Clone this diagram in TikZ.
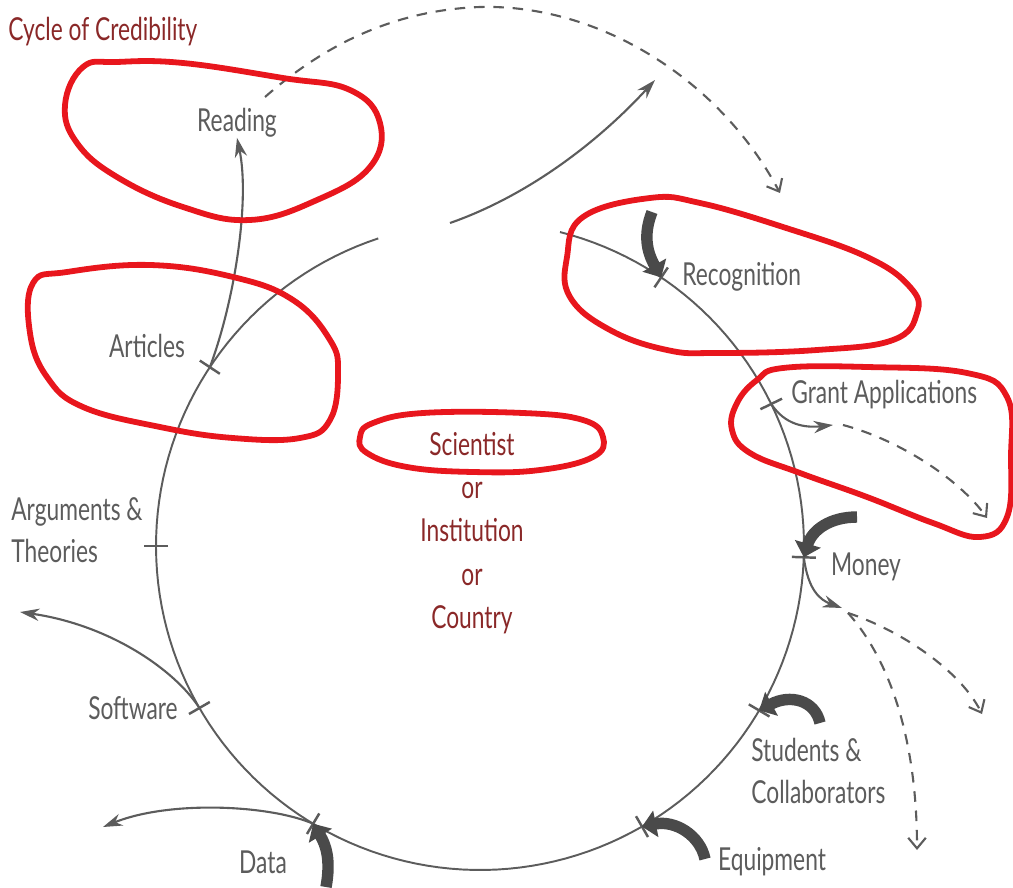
\documentclass[tikz,border=0pt]{standalone}
\usepackage{fontspec}
\newfontfamily\handfont[FakeStretch=0.72]{Lato}
\usetikzlibrary{arrows.meta}

\definecolor{penGray}{HTML}{5C5C5C}
\definecolor{markerGray}{HTML}{4A4A4A}
\definecolor{inkRed}{HTML}{8A2828}
\definecolor{loopRed}{HTML}{E8161D}

\tikzset{
  cycleline/.style={penGray,line width=1.1pt},
  tickmark/.style={penGray,line width=1.4pt},
  outarrow/.style={penGray,line width=1.2pt,-{Stealth[length=11pt,width=7pt]}},
  leakarrow/.style={penGray,line width=1.2pt,dash pattern=on 6pt off 5pt,-{Straight Barb[length=6pt,width=10pt]}},
  inarrow/.style={markerGray,line width=6.5pt,-{Triangle[length=8pt,width=15pt]}},
  redloop/.style={loopRed,line width=3.3pt,line join=round},
  itemtext/.style={penGray,inner sep=0pt,font=\handfont\fontsize{18}{24}\selectfont},
  redtext/.style={inkRed,inner sep=0pt,font=\handfont\fontsize{18}{24.7}\selectfont}
}

\begin{document}
\begin{tikzpicture}[x=0.02cm,y=-0.02cm]
  \useasboundingbox (0,0) rectangle (1013,888);

  % the cycle, open at the top
  \draw[cycleline] plot[domain=-75.7:251.7,samples=160] ({480+324*cos(\x)},{546+324*sin(\x)});
  \foreach \a/\n in {-56/tRecog,-26/tGrant,2/tMoney,30.5/tStud,60/tEquip,121/tData,150/tSoft,180/tArgs,213.5/tArts} {
    \coordinate (\n) at ({480+324*cos(\a)},{546+324*sin(\a)});
    \draw[tickmark] ({480+312*cos(\a)},{546+312*sin(\a)}) -- ({480+336*cos(\a)},{546+336*sin(\a)});
  }

  % labels
  \node[redtext,anchor=west] (title) at (8,32) {Cycle of Credibility};
  \node[itemtext] (reading) at (237,123) {Reading};
  \node[itemtext] (articles) at (147,346) {Articles};
  \node[itemtext,anchor=west,align=left] (arguments) at (11,530) {Arguments \&\\Theories};
  \node[itemtext] (software) at (133,708) {Software};
  \node[itemtext] (datalbl) at (263,862) {Data};
  \node[itemtext] (equipment) at (772,862) {Equipment};
  \node[itemtext,anchor=west,align=left] (studentslbl) at (751,771) {Students \&\\Collaborators};
  \node[itemtext] (moneylbl) at (866,567) {Money};
  \node[itemtext,anchor=west] (grantlbl) at (791,395) {Grant Applications};
  \node[itemtext,anchor=west] (recognition) at (682,277) {Recognition};
  \node[redtext,align=center] (who) at (472,533) {Scientist\\or\\Institution\\or\\Country};

  % free ends
  \coordinate (gapOut) at (450,223);
  \coordinate (outTip) at (655,80);
  \coordinate (readOut) at (265,97);
  \coordinate (recogIn) at (780,193);
  \coordinate (grantOut) at (833,425);
  \coordinate (grantLeak) at (843,425);
  \coordinate (grantEnd) at (987,518);
  \coordinate (moneyOut) at (842,608);
  \coordinate (moneyLeak) at (848,613);
  \coordinate (moneyEndA) at (982,714);
  \coordinate (moneyEndB) at (917,850);
  \coordinate (softTip) at (20,612);
  \coordinate (dataTip) at (103,827);
  \coordinate (recogSrc) at (652,212);
  \coordinate (moneySrc) at (857,517);
  \coordinate (studSrc) at (820,723);
  \coordinate (equipSrc) at (705,859);
  \coordinate (dataSrc) at (326,887);

  % outflows
  \draw[outarrow] (tArts) .. controls (235,300) and (250,200) .. (reading.south);
  \draw[outarrow] (gapOut) .. controls (530,195) and (600,140) .. (outTip);
  \draw[leakarrow] (readOut) .. controls (330,40) and (400,10) .. (480,7)
    .. controls (600,4) and (720,80) .. (recogIn);
  \draw[outarrow] (tGrant) .. controls (785,425) and (805,428) .. (grantOut);
  \draw[leakarrow] (grantLeak) .. controls (900,440) and (960,480) .. (grantEnd);
  \draw[outarrow] (tMoney) .. controls (808,590) and (820,600) .. (moneyOut);
  \draw[leakarrow] (moneyLeak) .. controls (900,630) and (960,670) .. (moneyEndA);
  \draw[leakarrow] (moneyLeak) .. controls (890,660) and (917,740) .. (moneyEndB);
  \draw[outarrow] (tSoft) .. controls (175,670) and (110,625) .. (softTip);
  \draw[outarrow] (tData) .. controls (270,805) and (170,800) .. (dataTip);

  % inflows
  \draw[inarrow] (recogSrc) .. controls (643,235) and (647,252) .. (tRecog);
  \draw[inarrow] (moneySrc) .. controls (830,517) and (812,530) .. (tMoney);
  \draw[inarrow] (studSrc) .. controls (815,700) and (790,694) .. (tStud);
  \draw[inarrow] (equipSrc) .. controls (700,835) and (675,820) .. (tEquip);
  \draw[inarrow] (dataSrc) .. controls (331,860) and (326,845) .. (tData);

  % red loops
  \draw[redloop] plot[smooth cycle,tension=0.7] coordinates {(83,67) (117,62) (183,63) (283,78) (350,90) (380,123) (370,167) (317,200) (250,220) (183,207) (117,177) (77,143) (65,105)};
  \draw[redloop] plot[smooth cycle,tension=0.7] coordinates {(33,283) (67,272) (150,265) (233,277) (293,300) (330,340) (338,373) (330,420) (300,438) (233,438) (160,427) (83,407) (47,377) (30,333)};
  \draw[redloop] plot[smooth cycle,tension=0.7] coordinates {(567,257) (583,217) (650,198) (700,203) (783,227) (867,257) (910,287) (917,313) (893,340) (817,350) (717,353) (667,350) (610,330) (570,297)};
  \draw[redloop] plot[smooth cycle,tension=0.7] coordinates {(737,403) (757,380) (783,368) (867,367) (967,373) (1007,397) (1011,457) (1007,517) (980,537) (933,523) (867,497) (800,473) (750,453) (732,430)};
  \draw[redloop] plot[smooth cycle,tension=0.7] coordinates {(360,437) (373,423) (423,413) (523,413) (583,420) (603,437) (593,457) (540,470) (473,472) (407,467) (367,453)};
\end{tikzpicture}
\end{document}
